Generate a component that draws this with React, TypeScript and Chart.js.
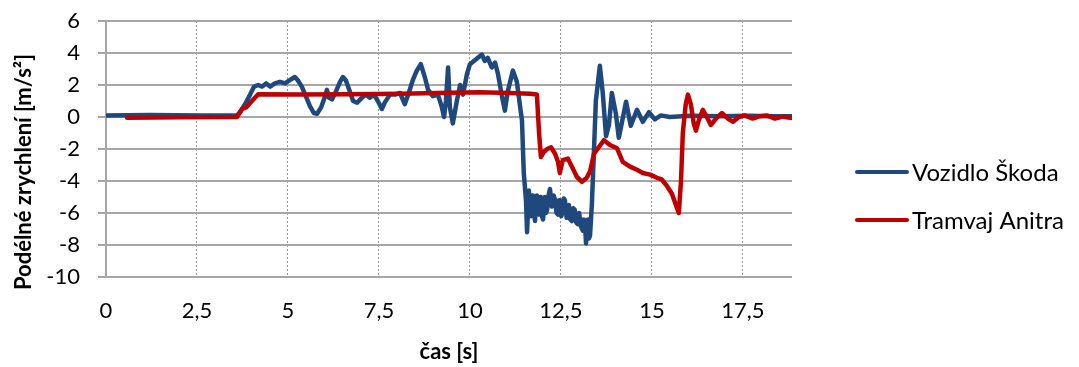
import React, { useEffect, useRef } from "react";
import { Chart, registerables } from "chart.js";

Chart.register(...registerables);

// Vozidlo Škoda — time [s] and longitudinal acceleration [m/s²]
const skodaTime = [
  0, 1.21, 2.58, 3.6, 3.68, 3.82, 3.96, 4.07, 4.18, 4.29, 4.4, 4.51, 4.64, 4.78, 4.92, 5.05,
  5.19, 5.27, 5.38, 5.49, 5.6, 5.71, 5.8, 5.91, 6.02, 6.07, 6.13, 6.21, 6.32, 6.43, 6.51, 6.59,
  6.7, 6.79, 6.9, 7.03, 7.14, 7.25, 7.36, 7.47, 7.58, 7.66, 7.8, 7.94, 8.08, 8.21, 8.32, 8.43,
  8.54, 8.65, 8.76, 8.85, 8.98, 9.12, 9.23, 9.29, 9.34, 9.4, 9.45, 9.53, 9.64, 9.73, 9.81, 9.92,
  10.0, 10.11, 10.22, 10.33, 10.41, 10.49, 10.6, 10.69, 10.77, 10.88, 10.96, 11.04, 11.18, 11.29,
  11.37, 11.43, 11.48, 11.54, 11.57, 11.6, 11.62, 11.65, 11.68, 11.71, 11.73, 11.76, 11.79, 11.82,
  11.84, 11.87, 11.9, 11.93, 11.95, 11.98, 12.01, 12.04, 12.06, 12.09, 12.12, 12.16, 12.2, 12.23,
  12.25, 12.3, 12.34, 12.38, 12.42, 12.45, 12.47, 12.51, 12.55, 12.58, 12.61, 12.64, 12.66, 12.69,
  12.72, 12.76, 12.8, 12.84, 12.88, 12.92, 12.97, 13.0, 13.02, 13.06, 13.1, 13.13, 13.16, 13.19,
  13.24, 13.27, 13.3, 13.35, 13.41, 13.46, 13.57, 13.65, 13.74, 13.82, 13.9, 14.01,
  14.09, 14.18, 14.29, 14.42, 14.59, 14.75, 14.92, 15.08, 15.25, 15.49, 16.04, 16.87, 17.69,
  18.24, 18.85,
];
const skodaAccel = [
  0.1, 0.12, 0.1, 0.1, 0.3, 0.8, 1.4, 1.9, 2.0, 1.9, 2.1, 1.9, 2.1, 2.2, 2.1, 2.3,
  2.5, 2.3, 1.9, 1.3, 0.7, 0.25, 0.2, 0.6, 1.3, 1.7, 1.2, 1.1, 1.6, 2.2, 2.5, 2.3,
  1.6, 1.0, 0.9, 1.2, 1.4, 1.2, 1.4, 1.0, 0.5, 0.9, 1.4, 1.4, 1.5, 0.8, 1.5, 2.3,
  2.9, 3.3, 2.5, 1.7, 1.3, 1.4, 0.6, 0.0, 1.0, 3.1, 0.6, -0.4, 1.0, 2.0, 1.4, 2.7,
  3.3, 3.5, 3.7, 3.9, 3.5, 3.7, 3.1, 3.4, 2.7, 1.3, 0.4, 1.6, 2.9, 2.2,
  0.8, -0.2, -3.5, -5.2, -7.2, -5.6, -4.6, -5.9, -6.2, -4.9, -5.0, -6.0, -6.5, -5.1,
  -4.9, -5.8, -6.1, -5.0, -5.2, -6.2, -6.4, -5.3, -5.0, -6.0, -5.8, -4.9, -4.5, -5.3,
  -5.6, -4.9, -5.2, -6.0, -6.1, -5.2, -5.3, -6.2, -5.9, -5.1, -5.2, -6.0, -6.3, -5.6,
  -5.5, -6.4, -6.5, -5.7, -5.8, -6.6, -6.7, -6.0, -6.0, -6.9, -7.1, -6.4, -6.6, -7.9,
  -6.4, -7.6, -7.4, -5.5, -2.0, 1.0, 3.2, 1.5, -1.2, -0.5, 1.5, 0.2,
  -1.3, -0.3, 0.95, -0.55, 0.45, -0.3, 0.3, -0.15, 0.1, 0.0, 0.08, 0.05, 0.08,
  0.05, 0.05,
];

// Tramvaj Anitra — time [s] and longitudinal acceleration [m/s²]
const anitraTime = [
  0.58, 2.03, 3.6, 3.74, 3.85, 4.01, 4.18, 5.33, 6.7, 8.08, 9.45, 10.27, 11.1, 11.65, 11.84,
  11.9, 11.95, 12.03, 12.12, 12.23, 12.34, 12.42, 12.47, 12.55, 12.69, 12.8, 12.94, 13.08, 13.21,
  13.3, 13.41, 13.52, 13.68, 13.85, 14.04, 14.2, 14.4, 14.59, 14.75, 14.95, 15.14, 15.27, 15.41,
  15.55, 15.66, 15.74, 15.8, 15.85, 15.93, 15.99, 16.07, 16.15, 16.21, 16.29, 16.4, 16.51, 16.62,
  16.76, 16.92, 17.09, 17.23, 17.39, 17.55, 17.77, 17.97, 18.16, 18.38, 18.6, 18.85,
];
const anitraAccel = [
  -0.05, -0.02, 0.0, 0.5, 0.6, 1.0, 1.42, 1.4, 1.42, 1.45, 1.52, 1.55, 1.5, 1.45, 1.4,
  -1.0, -2.5, -2.2, -2.0, -1.9, -2.3, -2.8, -3.5, -2.7, -2.6, -3.1, -3.75, -4.05, -3.8,
  -3.4, -2.3, -1.95, -1.45, -1.75, -1.95, -2.8, -3.1, -3.3, -3.5, -3.6, -3.8, -3.9, -4.3,
  -4.8, -5.5, -6.0, -4.0, -1.0, 0.8, 1.4, 0.8, -0.4, -0.85, -0.2, 0.45, 0.0, -0.5,
  -0.1, 0.25, -0.1, -0.3, 0.0, 0.1, -0.1, 0.05, 0.1, -0.1, 0.02, -0.06,
];

const seriesNames = ["Vozidlo Škoda", "Tramvaj Anitra"];
const seriesColors = ["#1F497D", "#C00000"];
const xTitle = "čas [s]";
const yTitle = "Podélné zrychlení [m/s²]";
const xMax = 18.85;
const yMin = -10;
const yMax = 6;

const FONT = "Lato, 'Open Sans', sans-serif";
const GRID = "#a6a6a6";

const toPoints = (xs: number[], ys: number[]) => xs.map((x, i) => ({ x, y: ys[i] }));

// Axis titles and the legend on the right side
const decorations = {
  id: "decorations",
  afterDraw(chart: Chart) {
    const ctx = chart.ctx;
    const area = chart.chartArea;
    ctx.save();
    ctx.fillStyle = "#000";
    ctx.font = `bold 22px ${FONT}`;
    ctx.textAlign = "center";
    ctx.textBaseline = "middle";
    ctx.fillText(xTitle, (area.left + area.right) / 2, 352);

    ctx.save();
    ctx.translate(24, 172);
    ctx.rotate(-Math.PI / 2);
    ctx.fillText(yTitle, 0, 0);
    ctx.restore();

    ctx.font = `24px ${FONT}`;
    ctx.textAlign = "left";
    const rows = [172, 220];
    seriesNames.forEach((name, i) => {
      const y = rows[i];
      ctx.strokeStyle = seriesColors[i];
      ctx.lineWidth = 4;
      ctx.lineCap = "round";
      ctx.beginPath();
      ctx.moveTo(857, y);
      ctx.lineTo(907, y);
      ctx.stroke();
      ctx.fillText(name, 912, y + 1);
    });
    ctx.restore();
  },
};

export default function App() {
  const canvasRef = useRef<HTMLCanvasElement | null>(null);

  useEffect(() => {
    const canvas = canvasRef.current;
    if (!canvas) return;
    const lineStyle = {
      borderWidth: 4.5,
      pointRadius: 0,
      tension: 0,
      borderJoinStyle: "round" as const,
      borderCapStyle: "round" as const,
    };
    const chart = new Chart(canvas, {
      type: "line",
      data: {
        datasets: [
          {
            label: seriesNames[0],
            data: toPoints(skodaTime, skodaAccel),
            borderColor: seriesColors[0],
            order: 1,
            ...lineStyle,
          },
          {
            label: seriesNames[1],
            data: toPoints(anitraTime, anitraAccel),
            borderColor: seriesColors[1],
            order: 0,
            ...lineStyle,
          },
        ],
      },
      options: {
        responsive: false,
        animation: false,
        devicePixelRatio: 1,
        layout: { padding: { left: 0, right: 1079 - 792, top: 21, bottom: 0 } },
        plugins: { legend: { display: false }, tooltip: { enabled: false } },
        scales: {
          x: {
            type: "linear",
            min: 0,
            max: xMax,
            afterFit(scale: any) {
              scale.height = 90;
              scale.paddingLeft = 0;
              scale.paddingRight = 0;
            },
            ticks: {
              stepSize: 2.5,
              includeBounds: false,
              padding: 21,
              color: "#000",
              font: { family: FONT, size: 22 },
              maxRotation: 0,
              callback: (v: any) => String(v).replace(".", ","),
            },
            grid: {
              drawTicks: false,
              lineWidth: 1,
              color: (c: any) => (c.tick && c.tick.value === 0 ? "rgba(0,0,0,0)" : "#9a9a9a"),
            },
            border: { display: false, dash: [2, 2] },
          },
          y: {
            type: "linear",
            min: yMin,
            max: yMax,
            afterFit(scale: any) {
              scale.width = 106;
              scale.paddingTop = 0;
              scale.paddingBottom = 0;
            },
            ticks: {
              stepSize: 2,
              padding: 18,
              color: "#000",
              font: { family: FONT, size: 22 },
            },
            grid: { color: GRID, lineWidth: 2, tickLength: 8 },
            border: { display: true, color: GRID, width: 2 },
          },
        },
      },
      plugins: [decorations],
    });
    return () => chart.destroy();
  }, []);

  return (
    <div style={{ position: "absolute", left: 0, top: 0, width: 1079, height: 367, background: "#fff" }}>
      <canvas ref={canvasRef} width={1079} height={367} />
    </div>
  );
}
